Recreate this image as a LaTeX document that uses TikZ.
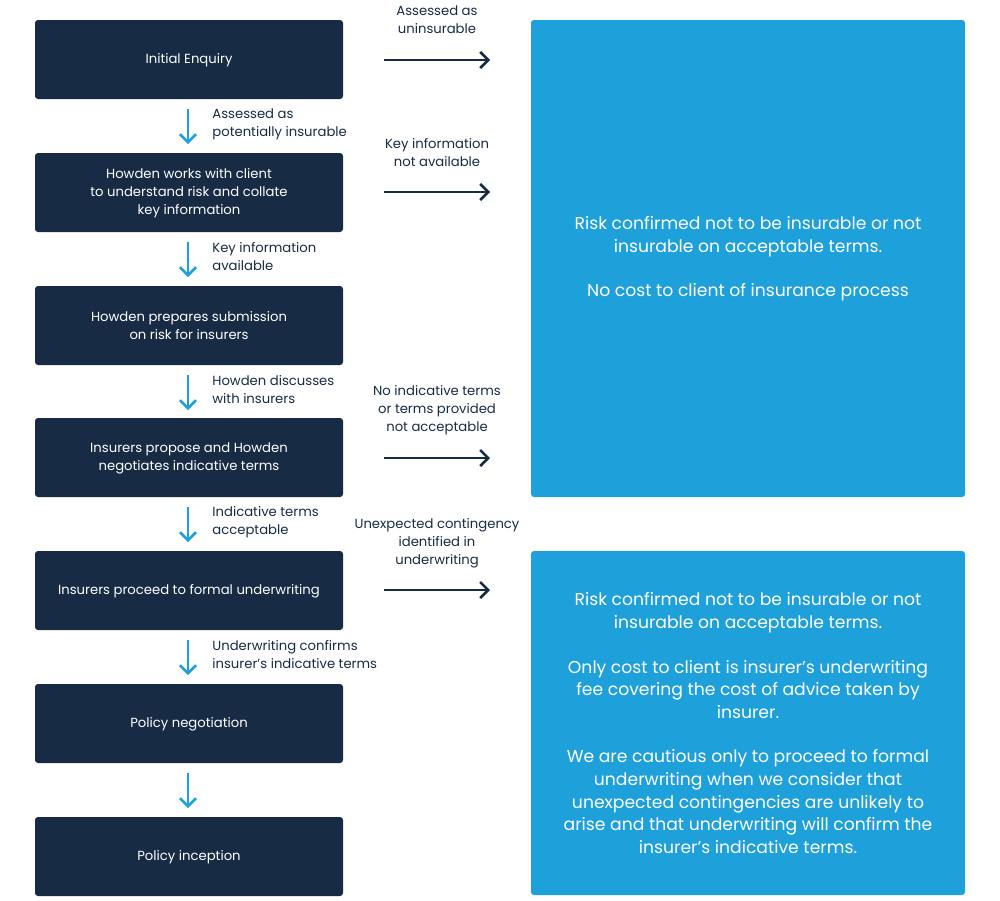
\documentclass[tikz,border=0pt]{standalone}
\usepackage{fontspec}
\setmainfont{Poppins}
\usetikzlibrary{arrows.meta}
\definecolor{navy}{HTML}{172B45}
\definecolor{sky}{HTML}{1EA0DB}
\begin{document}
\begin{tikzpicture}[x=0.5pt,y=-0.5pt,
  dbox/.style={fill=navy,rounded corners=1.5pt,text=white,font=\fontsize{6.6}{9}\selectfont,align=center,inner sep=0pt},
  bbox/.style={fill=sky,rounded corners=1.5pt,text=white,font=\fontsize{8.6}{11.3}\selectfont,align=center,inner sep=0pt},
  lbl/.style={text=navy,font=\fontsize{6.6}{9}\selectfont,align=center,inner sep=0pt},
  llbl/.style={text=navy,font=\fontsize{6.6}{9}\selectfont,align=left,anchor=west,inner sep=0pt},
  down/.style={draw=sky,line width=1.3pt,-{Straight Barb[length=4pt,width=8pt]}},
  right/.style={draw=navy,line width=1.3pt,-{Straight Barb[length=4pt,width=8pt]}}]
\useasboundingbox (0,0) rectangle (1000,900);
\foreach \n/\y/\t in {a/20/Initial Enquiry,
  b/153/{Howden works with client\\to understand risk and collate\\key information},
  c/286/{Howden prepares submission\\on risk for insurers},
  d/418/{Insurers propose and Howden\\negotiates indicative terms},
  e/551/{Insurers proceed to formal underwriting},
  f/684/{Policy negotiation},
  g/817/{Policy inception}}{
  \fill[navy,rounded corners=1.5pt] (35,\y) rectangle (343,\y+79);
  \node[dbox,fill=none] (\n) at (189,\y+40) {\t};
}
\fill[sky,rounded corners=1.5pt] (531,20) rectangle (965,497);
\node[bbox] (p) at (748,259) {Risk confirmed not to be insurable or not\\insurable on acceptable terms.\\[11pt]No cost to client of insurance process};
\fill[sky,rounded corners=1.5pt] (531,551) rectangle (965,895);
\node[bbox] (q) at (748,723) {Risk confirmed not to be insurable or not\\insurable on acceptable terms.\\[11pt]Only cost to client is insurer's underwriting\\fee covering the cost of advice taken by\\insurer.\\[11pt]We are cautious only to proceed to formal\\underwriting when we consider that\\unexpected contingencies are unlikely to\\arise and that underwriting will confirm the\\insurer's indicative terms.};
\foreach \y/\l in {99/{Assessed as\\potentially insurable},232/{Key information\\available},365/{Howden discusses\\with insurers},497/{Indicative terms\\acceptable},630/{Underwriting confirms\\insurer's indicative terms},763/{}}{
  \coordinate (s) at (188,\y+10); \coordinate (t) at (188,\y+45);
  \draw[down] (s) -- (t);
  \node[llbl] (l) at (212,\y+25) {\l};
}
\foreach \y/\ly/\l in {60/20/{Assessed as\\uninsurable},192/153/{Key information\\not available},458/410/{No indicative terms\\or terms provided\\not acceptable},590/543/{Unexpected contingency\\identified in\\underwriting}}{
  \coordinate (s) at (384,\y); \coordinate (t) at (490,\y);
  \draw[right] (s) -- (t);
  \node[lbl] (m) at (437,\ly) {\l};
}
\end{tikzpicture}
\end{document}
